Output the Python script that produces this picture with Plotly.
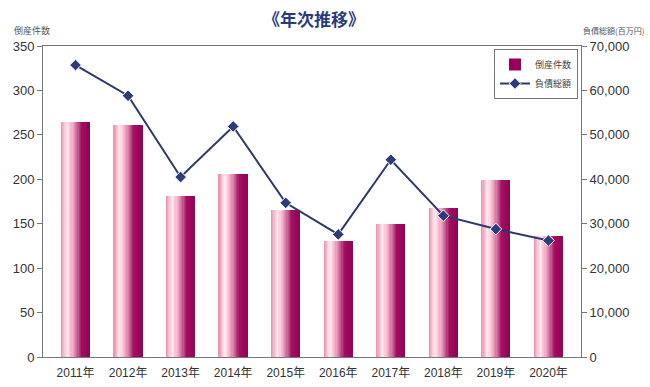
import plotly.graph_objects as go

years = ["2011年", "2012年", "2013年", "2014年", "2015年", "2016年", "2017年", "2018年", "2019年", "2020年"]
bankruptcies = [264, 261, 181, 206, 166, 131, 150, 168, 199, 136]
debt_total = [65700, 58800, 40500, 51900, 34700, 27600, 44400, 31800, 28800, 26200]

FONT = "Liberation Sans, Arial, Noto Sans CJK JP, sans-serif"
JFONT = "Noto Sans CJK JP, sans-serif"

# gradient stops across the bar width (styling only)
stops = [(0.0, (236, 140, 172)), (0.22, (255, 236, 241)), (0.42, (242, 168, 194)),
         (0.58, (196, 100, 148)), (0.72, (162, 16, 96)), (1.0, (150, 0, 88))]


def color_at(t):
    for (t0, c0), (t1, c1) in zip(stops[:-1], stops[1:]):
        if t0 <= t <= t1:
            f = (t - t0) / (t1 - t0) if t1 > t0 else 0
            c = [round(a + (b - a) * f) for a, b in zip(c0, c1)]
            return "rgb(%d,%d,%d)" % tuple(c)
    return "rgb(%d,%d,%d)" % stops[-1][1]


fig = go.Figure()
N = 24
W = 0.54
for i in range(N):
    t = (i + 0.5) / N
    fig.add_trace(go.Bar(
        x=years, y=bankruptcies,
        width=W / N + 0.002, offset=-W / 2 + i * W / N,
        marker=dict(color=color_at(t), line=dict(width=0)),
        name="倒産件数", showlegend=(i == N - 1),
        legendgroup="bars", hoverinfo="skip" if i != N - 1 else None,
    ))

fig.add_trace(go.Scatter(
    x=years, y=debt_total, yaxis="y2", name="負債総額",
    mode="lines+markers",
    line=dict(color="#2e376e", width=2),
    marker=dict(symbol="diamond", size=9, color="#2e3a7a",
                line=dict(color="white", width=1)),
))

L, R, T, B = 43, 69, 46, 30
pw = 650 - L - R
ph = 387 - T - B

fig.update_layout(
    width=650, height=387,
    margin=dict(l=L, r=R, t=T, b=B, autoexpand=False),
    paper_bgcolor="white", plot_bgcolor="white",
    barmode="overlay", bargap=0,
    font=dict(family=FONT, size=13, color="#333"),
    title=dict(text="<b>《年次推移》</b>", x=(314 - L) / pw, xref="paper",
               xanchor="center", y=1 - 20 / 387, yref="container",
               yanchor="middle", automargin=False,
               font=dict(family=JFONT, size=17, color="#2a3a80")),
    xaxis=dict(type="category", showline=True, linecolor="#777", linewidth=1,
               mirror=True, ticks="outside", ticklen=5,
               tickcolor="rgba(0,0,0,0)", showgrid=False, automargin=False,
               tickfont=dict(family=FONT, size=12, color="#333")),
    yaxis=dict(range=[0, 350], dtick=50, showline=True, linecolor="#777",
               linewidth=1, ticks="outside", ticklen=5, tickcolor="#777",
               showgrid=False, zeroline=False, automargin=False,
               tickfont=dict(family=FONT, size=13, color="#333")),
    yaxis2=dict(range=[0, 70000], dtick=10000, overlaying="y", side="right",
                showline=True, linecolor="#777", linewidth=1, ticks="outside",
                ticklen=5, tickcolor="#777", showgrid=False, zeroline=False,
                automargin=False, tickformat=",",
                tickfont=dict(family=FONT, size=13, color="#333")),
    legend=dict(x=(494 - L) / pw, y=(357 - 49) / ph, xanchor="left", yanchor="top",
                bgcolor="white", bordercolor="#777", borderwidth=1,
                font=dict(family=JFONT, size=9, color="#444"),
                tracegroupgap=0, itemwidth=30),
    annotations=[
        dict(text="倒産件数", x=(12 - L) / pw, y=(357 - 30) / ph,
             xref="paper", yref="paper", showarrow=False,
             xanchor="left", yanchor="middle",
             font=dict(family=JFONT, size=9, color="#555")),
        dict(text="負債総額(百万円)", x=(646 - L) / pw, y=(357 - 30) / ph,
             xref="paper", yref="paper", showarrow=False,
             xanchor="right", yanchor="middle",
             font=dict(family=JFONT, size=8, color="#555")),
    ],
)

fig.write_html("out.html",
               config={"displayModeBar": False},
               post_script="document.body.style.margin='0';"
                           "document.body.style.overflow='hidden';")
